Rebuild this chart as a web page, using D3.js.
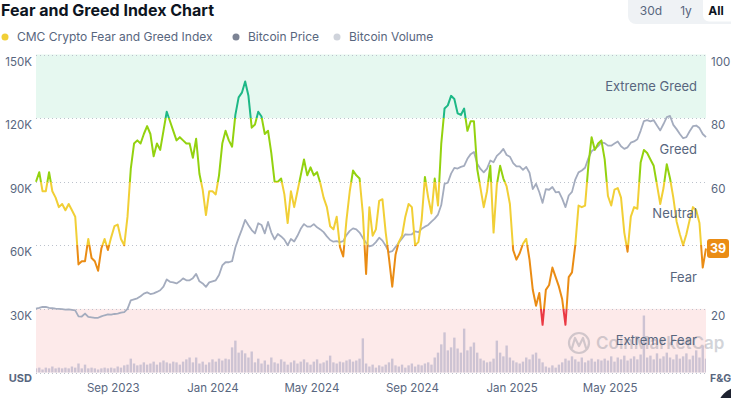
<!DOCTYPE html>
<html>
<head>
<meta charset="utf-8">
<script src="https://cdn.jsdelivr.net/npm/d3@7"></script>
<style>
  body { margin: 0; background: #fff; }
  svg { display: block; font-family: Inter, "Noto Sans", sans-serif; }
</style>
</head>
<body>
<svg id="chart" width="731" height="398"></svg>
<script>
// one sample every 4 days
const startDate = "2023-05-30";
const stepDays = 4;

const fearGreed = [
  60, 63, 57, 57, 63, 57, 55, 52, 53, 51,
  53, 51, 49, 34, 35, 35, 42, 36, 35, 32,
  39, 42, 38.5, 42.5, 46, 46.5, 42, 40, 49, 64,
  72, 73, 72, 75, 77.5, 75, 68, 72, 70, 76,
  82, 79, 76, 73, 74, 73, 72, 72, 67.5, 73.5,
  62.5, 57.5, 49.5, 57, 57, 56, 62, 72, 76, 73,
  71, 81, 86.5, 88, 91.5, 87, 77, 78, 82, 80.5,
  75, 76, 69, 60, 60, 61, 56, 47, 57, 52,
  57, 62, 67, 62, 64.5, 62, 63, 59.5, 55, 52,
  46, 45, 49, 39.5, 36.5, 48, 57, 63.5, 62, 61,
  50, 31, 52, 43, 45, 54, 54.5, 44, 36, 27,
  37, 41, 43, 49, 53, 52, 40, 41, 48, 61.5,
  55, 50, 61, 52.5, 72, 83, 84, 87, 86, 81.5,
  81, 83, 76, 79, 79, 64, 58, 52, 57, 65,
  44, 59, 65, 61, 58.5, 53, 38.5, 35.5, 37.5, 40.5,
  42, 35.5, 26, 21, 25, 15, 26, 27.5, 33, 30,
  27, 23, 15, 30, 31.5, 40, 52.5, 52, 52.5, 65,
  74, 70, 72, 73, 67, 55.5, 52.5, 57.5, 58, 55,
  44, 38, 49, 52, 51.5, 66, 70, 69, 67, 65,
  59, 53, 58, 65.5, 61, 55, 47.5, 43.5, 40, 43.5,
  48, 52, 51, 47, 33, 39
];

// thousands of USD
const btcPriceK = [
  30.1, 30.5, 31, 30.9, 30.5, 30.3, 30.1, 30, 29.9, 29.7,
  29.8, 29.5, 29.3, 26.5, 26.4, 27.8, 26.2, 26, 25.8, 25.8,
  26.5, 27, 27.4, 27.3, 27.6, 27.8, 28.2, 28.5, 30, 34,
  34.5, 35, 36, 37.2, 37.8, 37, 37.3, 38, 38.8, 40.5,
  43.9, 42.8, 42.5, 42, 43, 44.4, 43.5, 43.5, 44.5, 46.5,
  43, 42, 40.4, 42.5, 43, 43.5, 46, 50.5, 52, 52,
  52.5, 59, 63.5, 67.5, 72, 69.5, 67.2, 65.6, 70.4, 69.6,
  65.6, 71, 66, 62.8, 65.3, 64.2, 62.7, 60, 63, 61.8,
  64.5, 67.8, 70, 68.8, 68.8, 70, 68.5, 67.5, 66.2, 64.2,
  62.5, 61.7, 62, 61.5, 62, 64.8, 66.8, 68, 67.5, 66,
  63.5, 61.2, 59.5, 60, 61.5, 63.6, 62.2, 59.8, 56.8, 57.2,
  59.2, 61.2, 63.2, 65.2, 65, 65.2, 66.6, 66.2, 67.8, 68.8,
  69.6, 71.2, 72.6, 74.5, 79, 89, 89.5, 93.8, 96.5, 96.2,
  97, 97.5, 100.8, 103, 104, 98.5, 96, 94.4, 96.2, 100,
  99.2, 102.2, 103.6, 105.5, 102.6, 101.8, 98.8, 97.2, 97.2, 95.6,
  97, 94.2, 86.5, 89, 85, 80, 86.5, 86.2, 87.5, 85,
  85.2, 82, 78, 83.5, 85.2, 91, 94.4, 95.3, 96.6, 101,
  104.4, 105.5, 106.8, 108.6, 108.2, 107, 107, 108, 109, 106.7,
  105.5, 106.2, 108.4, 109, 110, 114, 118.6, 119, 118.5, 119,
  116.5, 114.2, 117.2, 120.5, 121, 116.8, 114.8, 112.5, 110.5, 111,
  113.8, 116.2, 116.5, 115.3, 112.5, 111
];

// billions of USD
const btcVolumeB = [
  11, 13, 8, 13, 11, 16, 11, 13, 11, 13,
  11, 16, 13, 24, 11, 21, 11, 13, 11, 8,
  11, 13, 11, 13, 11, 16, 13, 19, 21, 37,
  24, 19, 21, 27, 21, 24, 29, 21, 27, 32,
  27, 24, 29, 27, 21, 29, 35, 40, 27, 40,
  24, 29, 21, 27, 35, 29, 37, 32, 37, 35,
  67, 85, 53, 59, 51, 40, 56, 27, 37, 24,
  32, 21, 40, 27, 24, 35, 29, 21, 27, 32,
  24, 29, 35, 27, 21, 29, 35, 24, 27, 32,
  45, 27, 24, 29, 27, 32, 35, 29, 32, 37,
  91, 24, 16, 21, 13, 19, 16, 21, 27, 37,
  19, 16, 21, 13, 19, 24, 16, 21, 19, 24,
  27, 21, 40, 53, 75, 107, 59, 67, 93, 64,
  53, 117, 59, 69, 80, 53, 37, 32, 27, 29,
  37, 85, 53, 43, 72, 40, 32, 27, 24, 29,
  40, 35, 48, 53, 37, 27, 16, 13, 19, 13,
  21, 27, 37, 32, 43, 35, 29, 40, 27, 32,
  37, 29, 35, 32, 37, 32, 43, 29, 40, 35,
  45, 32, 37, 43, 35, 48, 152, 40, 45, 35,
  51, 37, 43, 53, 40, 35, 48, 37, 43, 51,
  35, 45, 59, 40, 72, 37
];

const monthTicks = ["2023-09-01", "2024-01-01", "2024-05-01", "2024-09-01", "2025-01-01", "2025-05-01"];
const priceTicks = [30000, 60000, 90000, 120000, 150000];
const fgTicks = [20, 40, 60, 80, 100];

const zoneNames = ["Extreme Fear", "Fear", "Neutral", "Greed", "Extreme Greed"];
const zoneEdges = [0, 20, 40, 60, 80, 100];
const zoneColors = ["#ea3943", "#ea8c14", "#f1cf36", "#93d20f", "#1db886"];

const legendNames = ["CMC Crypto Fear and Greed Index", "Bitcoin Price", "Bitcoin Volume"];
const legendColors = ["#f1cf36", "#7c8394", "#cfd3db"];
const rangeButtons = ["30d", "1y", "All"];

const WIDTH = 731;
const HEIGHT = 398;
const MARGINS = { top: 54.5, right: 25, bottom: 25.5, left: 36 };
const TEXT = "#58667e";

const svg = d3.select( "#chart" );
const parse = d3.utcParse( "%Y-%m-%d" );
const t0 = parse( startDate );
const dates = fearGreed.map( ( _, i ) => d3.utcDay.offset( t0, i * stepDays ) );

const xScale = d3.scaleUtc()
  .domain( [ dates[0], dates[dates.length - 1] ] )
  .range( [ MARGINS.left, WIDTH - MARGINS.right ] );
const yPrice = d3.scaleLinear()
  .domain( [ 0, 150000 ] )
  .range( [ HEIGHT - MARGINS.bottom, MARGINS.top ] );
const yFG = d3.scaleLinear()
  .domain( [ 0, 100 ] )
  .range( [ HEIGHT - MARGINS.bottom, MARGINS.top ] );
const hVol = d3.scaleLinear()
  .domain( [ 0, 200 ] )
  .range( [ 0, 75 ] );

const x0 = MARGINS.left;
const x1 = WIDTH - MARGINS.right;
const last = fearGreed[fearGreed.length - 1];

// header
svg.append( "text" )
  .attr( "x", 1 ).attr( "y", 16 )
  .attr( "font-size", 16 ).attr( "font-weight", 700 )
  .attr( "fill", "#0d1421" )
  .text( "Fear and Greed Index Chart" );

const btnG = svg.append( "g" );
btnG.append( "rect" )
  .attr( "x", 628 ).attr( "y", -8 ).attr( "width", 112 ).attr( "height", 32 )
  .attr( "rx", 8 ).attr( "fill", "#eff2f5" );
btnG.append( "rect" )
  .attr( "x", 703 ).attr( "y", -6 ).attr( "width", 34 ).attr( "height", 27.5 )
  .attr( "rx", 6 ).attr( "fill", "#fff" );
const btnX = [ 651, 686, 716 ];
btnG.selectAll( "text.btn" )
  .data( rangeButtons )
  .enter()
  .append( "text" )
  .attr( "x", ( d, i ) => btnX[i] ).attr( "y", 15 )
  .attr( "text-anchor", "middle" )
  .attr( "font-size", 12 )
  .attr( "font-weight", ( d, i ) => i === 2 ? 700 : 400 )
  .attr( "fill", ( d, i ) => i === 2 ? "#0d1421" : TEXT )
  .text( d => d );

// legend
const legX = [ 5, 236, 337 ];
const leg = svg.selectAll( "g.leg" )
  .data( legendNames )
  .enter()
  .append( "g" )
  .attr( "transform", ( d, i ) => `translate(${legX[i]},37)` );
leg.append( "circle" ).attr( "r", 3.5 ).attr( "fill", ( d, i ) => legendColors[i] );
leg.append( "text" )
  .attr( "x", 12 ).attr( "y", 4.3 )
  .attr( "font-size", 12 ).attr( "fill", TEXT )
  .text( d => d );

// extreme bands
svg.append( "rect" )
  .attr( "x", x0 ).attr( "width", x1 - x0 )
  .attr( "y", yFG( 100 ) ).attr( "height", yFG( 80 ) - yFG( 100 ) )
  .attr( "fill", "#e6f8f0" );
svg.append( "rect" )
  .attr( "x", x0 ).attr( "width", x1 - x0 )
  .attr( "y", yFG( 20 ) ).attr( "height", yFG( 0 ) - yFG( 20 ) )
  .attr( "fill", "#fdeaea" );

// grid
svg.append( "g" )
  .selectAll( "line" )
  .data( [ 0 ].concat( fgTicks ) )
  .enter()
  .append( "line" )
  .attr( "x1", x0 ).attr( "x2", x1 )
  .attr( "y1", d => Math.round( yFG( d ) ) + 0.5 )
  .attr( "y2", d => Math.round( yFG( d ) ) + 0.5 )
  .attr( "stroke", "#bcc2cc" )
  .attr( "stroke-dasharray", "1,3" );

// watermark
const wm = svg.append( "g" ).attr( "opacity", 0.3 );
wm.append( "circle" )
  .attr( "cx", 579 ).attr( "cy", 343 ).attr( "r", 10 )
  .attr( "fill", "none" ).attr( "stroke", "#6e7585" ).attr( "stroke-width", 2.2 );
wm.append( "path" )
  .attr( "d", "M572,348 L575,338 L579,346 L583,338 L586,348" )
  .attr( "fill", "none" ).attr( "stroke", "#6e7585" ).attr( "stroke-width", 2.2 )
  .attr( "stroke-linejoin", "round" ).attr( "stroke-linecap", "round" );
wm.append( "text" )
  .attr( "x", 596 ).attr( "y", 349 )
  .attr( "font-size", 17 ).attr( "font-weight", 600 )
  .attr( "fill", "#6e7585" )
  .text( "CoinMarketCap" );

// volume
svg.append( "clipPath" ).attr( "id", "plotClip" )
  .append( "rect" )
  .attr( "x", x0 ).attr( "y", 0 ).attr( "width", x1 - x0 ).attr( "height", HEIGHT );

const barW = 2.4;
svg.append( "g" )
  .attr( "clip-path", "url(#plotClip)" )
  .selectAll( "rect" )
  .data( btcVolumeB )
  .enter()
  .append( "rect" )
  .attr( "x", ( d, i ) => xScale( dates[i] ) - barW / 2 )
  .attr( "width", barW )
  .attr( "y", d => yFG( 0 ) - hVol( d ) )
  .attr( "height", d => hVol( d ) )
  .attr( "fill", "#cdc3d3" );

// price line
const priceLine = d3.line()
  .x( ( d, i ) => xScale( dates[i] ) )
  .y( d => yPrice( d * 1000 ) );
svg.append( "path" )
  .attr( "d", priceLine( btcPriceK ) )
  .attr( "fill", "none" )
  .attr( "stroke", "#a4acbe" )
  .attr( "stroke-width", 1.8 )
  .attr( "stroke-linejoin", "round" );

// fear & greed line, coloured by zone through hard gradient stops (top to bottom)
const span = yFG( 0 ) - yFG( 100 );
const stops = [];
for ( let i = zoneColors.length - 1; i >= 0; i-- ) {
  stops.push( { off: ( yFG( zoneEdges[i + 1] ) - yFG( 100 ) ) / span, color: zoneColors[i] } );
  stops.push( { off: ( yFG( zoneEdges[i] ) - yFG( 100 ) ) / span, color: zoneColors[i] } );
}
svg.append( "defs" ).append( "linearGradient" )
  .attr( "id", "fgGrad" )
  .attr( "gradientUnits", "userSpaceOnUse" )
  .attr( "x1", 0 ).attr( "x2", 0 )
  .attr( "y1", yFG( 100 ) ).attr( "y2", yFG( 0 ) )
  .selectAll( "stop" )
  .data( stops )
  .enter()
  .append( "stop" )
  .attr( "offset", d => d.off )
  .attr( "stop-color", d => d.color );

const fgLine = d3.line()
  .x( ( d, i ) => xScale( dates[i] ) )
  .y( d => yFG( d ) );
svg.append( "path" )
  .attr( "d", fgLine( fearGreed ) )
  .attr( "fill", "none" )
  .attr( "stroke", "url(#fgGrad)" )
  .attr( "stroke-width", 2 )
  .attr( "stroke-linejoin", "round" );

// zone labels
svg.append( "g" )
  .selectAll( "text" )
  .data( zoneNames )
  .enter()
  .append( "text" )
  .attr( "x", 697 )
  .attr( "y", ( d, i ) => ( yFG( zoneEdges[i] ) + yFG( zoneEdges[i + 1] ) ) / 2 + 4.5 )
  .attr( "text-anchor", "end" )
  .attr( "font-size", 13 )
  .attr( "fill", TEXT )
  .text( d => d );

// axes
const leftAxis = d3.axisLeft( yPrice )
  .tickValues( priceTicks )
  .tickFormat( d => `${d / 1000}K` )
  .tickSize( 0 ).tickPadding( 4 );
const gl = svg.append( "g" ).attr( "transform", `translate(${x0},0)` ).call( leftAxis );

const rightAxis = d3.axisRight( yFG )
  .tickValues( fgTicks )
  .tickSize( 0 ).tickPadding( 5 );
const gr = svg.append( "g" ).attr( "transform", `translate(${x1},0)` ).call( rightAxis );

const bottomAxis = d3.axisBottom( xScale )
  .tickValues( monthTicks.map( parse ) )
  .tickFormat( d3.utcFormat( "%b %Y" ) )
  .tickSize( 0 ).tickPadding( 11 );
const gb = svg.append( "g" ).attr( "transform", `translate(0,${yFG( 0 )})` ).call( bottomAxis );

[ gl, gr, gb ].forEach( g => {
  g.select( ".domain" ).remove();
  g.selectAll( "text" )
    .attr( "fill", TEXT )
    .attr( "font-size", 11.5 )
    .attr( "font-family", "Inter, 'Noto Sans', sans-serif" );
} );
gl.selectAll( "text" ).attr( "y", 7 );
gr.selectAll( "text" ).attr( "y", 7 );
// the latest-value badge sits over the right tick it would hit
gr.selectAll( ".tick" )
  .filter( d => Math.abs( yFG( d ) + 7 - yFG( last ) ) < 16 )
  .remove();

svg.append( "text" )
  .attr( "x", 32 ).attr( "y", 382 )
  .attr( "text-anchor", "end" )
  .attr( "font-size", 11 ).attr( "font-weight", 700 ).attr( "fill", TEXT )
  .text( "USD" );
svg.append( "text" )
  .attr( "x", 710 ).attr( "y", 382 )
  .attr( "font-size", 10.5 ).attr( "font-weight", 700 ).attr( "fill", TEXT )
  .text( "F&G" );

// latest value badge
const zoneIdx = Math.min( 4, Math.floor( last / 20 ) );
svg.append( "rect" )
  .attr( "x", 707 ).attr( "y", yFG( last ) - 9.5 )
  .attr( "width", 22 ).attr( "height", 19 ).attr( "rx", 3 )
  .attr( "fill", zoneColors[zoneIdx] );
svg.append( "text" )
  .attr( "x", 718 ).attr( "y", yFG( last ) + 4.5 )
  .attr( "text-anchor", "middle" )
  .attr( "font-size", 12.5 ).attr( "font-weight", 700 ).attr( "fill", "#fff" )
  .text( last );

// floating button peeking in the corner
svg.append( "circle" )
  .attr( "cx", 740 ).attr( "cy", 410 ).attr( "r", 23 )
  .attr( "fill", "#1e2230" );
</script>
</body>
</html>
